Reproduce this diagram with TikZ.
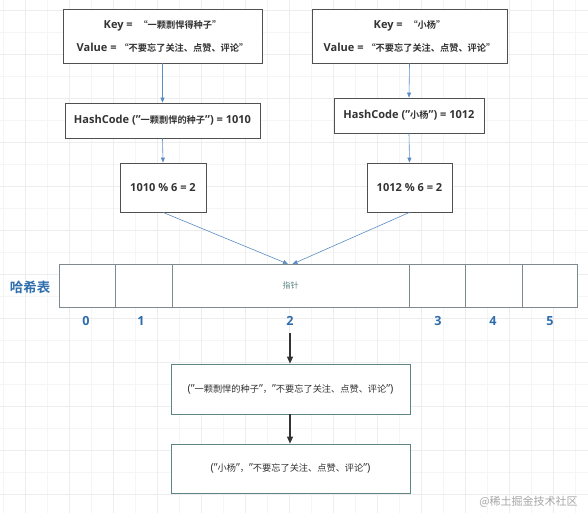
\documentclass[tikz,border=0pt]{standalone}
\usepackage{fontspec}
\setmainfont{Open Sans}[Scale=1.2]
\newfontfamily\cjk{Noto Sans CJK SC}[BoldFont=* Bold]
\newcommand\zh[1]{{\cjk #1}}
\usetikzlibrary{arrows.meta}
\definecolor{boxline}{HTML}{505050}
\definecolor{tealline}{HTML}{5E8484}
\definecolor{arrblue}{HTML}{5A8CC4}
\definecolor{numblue}{HTML}{2F6EAD}
\definecolor{txt}{HTML}{333333}
\definecolor{gridminor}{HTML}{F5F5F5}
\definecolor{gridmajor}{HTML}{EDEDED}
\definecolor{cellline}{HTML}{7F8A90}
\tikzset{
  box/.style={draw=boxline, line width=0.8pt, fill=white, rectangle, inner sep=0pt, align=center,
    text=txt, font=\bfseries\fontsize{9.2}{23}\selectfont},
  resbox/.style={draw=tealline, line width=0.8pt, fill=white, rectangle, inner sep=0pt, align=center,
    text=txt, font=\fontsize{9.2}{12}\selectfont, minimum width=239pt},
  cell/.style={draw=cellline, line width=0.7pt, fill=white, rectangle, inner sep=0pt, minimum height=43pt},
  num/.style={text=numblue, font=\bfseries\fontsize{10.5}{14}\selectfont, inner sep=0pt},
  blarrow/.style={draw=arrblue, line width=0.6pt, -{Triangle[length=5pt,width=4pt]}},
  bkarrow/.style={draw=txt, line width=1.1pt, -{Triangle[length=7pt,width=6pt]}},
}
\begin{document}
\begin{tikzpicture}[x=1pt,y=-1pt]
\useasboundingbox (0,0) rectangle (588,513);
\fill[white] (0,0) rectangle (588,513);
% background grid
\foreach \x in {3,25,...,588} \draw[gridminor, line width=0.6pt] (\x,0) -- (\x,513);
\foreach \y in {10,32,...,513} \draw[gridminor, line width=0.6pt] (0,\y) -- (588,\y);
\foreach \y in {10,54,...,513} \draw[gridmajor, line width=0.6pt] (0,\y) -- (588,\y);
\foreach \x in {25,69,...,588} \draw[gridmajor, line width=0.6pt] (\x,0) -- (\x,513);

% left column
\node[box, minimum width=199pt, minimum height=54pt] (k1) at (162.5,36)
  {Key =\ \ \zh{“一颗剽悍得种子”}\\Value = \zh{“不要忘了关注、点赞、评论”}};
\node[box, minimum width=195pt, minimum height=35pt] (h1) at (162.5,120.5)
  {HashCode ("\zh{一颗剽悍的种子}") = 1010};
\node[box, minimum width=86pt, minimum height=49pt] (m1) at (163,187.5)
  {1010 \% 6 = 2};

% right column
\node[box, minimum width=195pt, minimum height=54pt] (k2) at (409.5,36)
  {Key =\ \ \zh{“小杨”}\\Value = \zh{“不要忘了关注、点赞、评论”}};
\node[box, minimum width=150pt, minimum height=35pt] (h2) at (409,115.5)
  {HashCode ("\zh{小杨}") = 1012};
\node[box, minimum width=85pt, minimum height=49pt] (m2) at (409.5,187.5)
  {1012 \% 6 = 2};

\draw[blarrow] (k1.south) -- (h1.north);
\draw[blarrow] (h1.south) -- (m1.north);
\draw[blarrow] (k2.south) -- (h2.north);
\draw[blarrow] (h2.south) -- (m2.north);

% hash table
\node[cell, minimum width=56pt] (c0) at (87,285.5) {};
\node[cell, minimum width=57pt] (c1) at (143.5,285.5) {};
\node[cell, minimum width=237pt, text=tealline, font=\cjk\fontsize{8}{10}\selectfont] (c2) at (290.5,285.5) {指针};
\node[cell, minimum width=56pt] (c3) at (437,285.5) {};
\node[cell, minimum width=57pt] (c4) at (493.5,285.5) {};
\node[cell, minimum width=55pt] (c5) at (549.5,285.5) {};
\node[text=numblue, font=\cjk\bfseries\fontsize{13.5}{15}\selectfont, inner sep=0pt] (lbl) at (30,287) {哈希表};

\node[num] (n0) at (86,321) {0};
\node[num] (n1) at (141,321) {1};
\node[num] (n2) at (290,321) {2};
\node[num] (n3) at (438,321) {3};
\node[num] (n4) at (493,321) {4};
\node[num] (n5) at (550,321) {5};

\coordinate (t1) at (288,264);
\coordinate (t2) at (292.5,264);
\draw[blarrow] (m1.south) -- (t1);
\draw[blarrow] (m2.south) -- (t2);

% result chain
\coordinate (s0) at (290,333);
\node[resbox, minimum height=50pt] (r1) at (290.5,389)
  {("\zh{一颗剽悍的种子}"\zh{，}"\zh{不要忘了关注、点赞、评论}")};
\node[resbox, minimum height=49pt] (r2) at (290.5,468.5)
  {("\zh{小杨}"\zh{，}"\zh{不要忘了关注、点赞、评论}")};
\draw[bkarrow] (s0) -- (r1.north -| s0);
\draw[bkarrow] (r1.south -| s0) -- (r2.north -| s0);

% watermark
\node[text=gray!70, font=\cjk\fontsize{11}{13}\selectfont, inner sep=0pt] (wm) at (528.5,502) {@稀土掘金技术社区};
\end{tikzpicture}
\end{document}
